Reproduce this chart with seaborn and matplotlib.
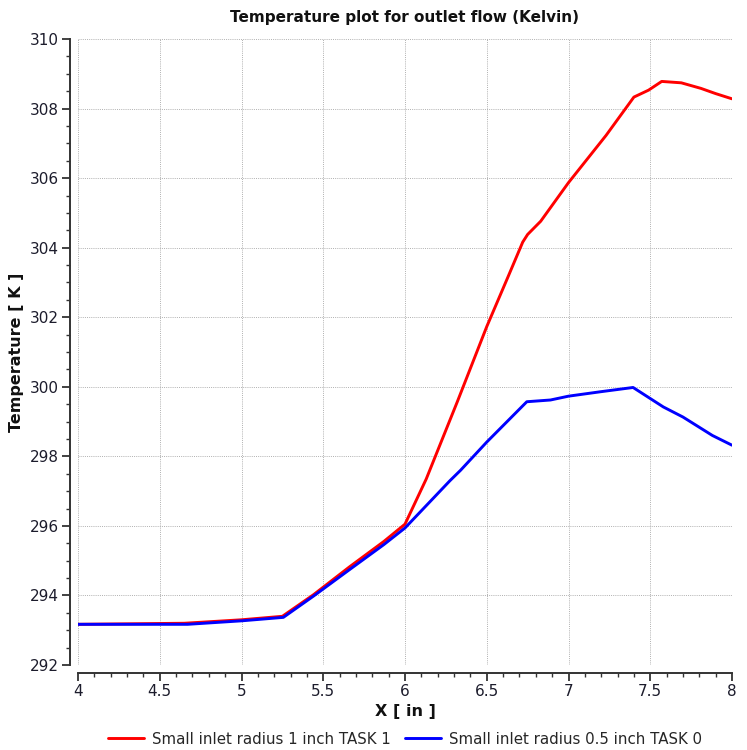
import matplotlib
matplotlib.use("Agg")
import matplotlib.pyplot as plt
from matplotlib.ticker import MultipleLocator, FormatStrFormatter
import pandas as pd
import seaborn as sns

# Outlet temperature
x_task1 = [4.0, 4.65, 5.0, 5.25, 5.44, 5.66, 5.87, 6.0, 6.13, 6.32, 6.5, 6.63,
           6.72, 6.75, 6.83, 7.0, 7.23, 7.4, 7.49, 7.57, 7.69, 7.81, 7.9, 8.0]
t_task1 = [293.17, 293.2, 293.3, 293.4, 294.02, 294.82, 295.55, 296.05, 297.35,
           299.57, 301.73, 303.16, 304.16, 304.38, 304.76, 305.87, 307.23,
           308.33, 308.53, 308.78, 308.74, 308.58, 308.43, 308.28]

x_task0 = [4.0, 4.67, 5.0, 5.256, 5.44, 5.66, 5.87, 6.0, 6.275, 6.34, 6.5,
           6.745, 6.89, 7.0, 7.2, 7.395, 7.58, 7.70, 7.88, 8.0]
t_task0 = [293.17, 293.17, 293.27, 293.37, 293.98, 294.74, 295.46, 295.94,
           297.3, 297.6, 298.41, 299.57, 299.62, 299.73, 299.86, 299.98,
           299.42, 299.13, 298.6, 298.32]

label1 = "Small inlet radius 1 inch TASK 1"
label0 = "Small inlet radius 0.5 inch TASK 0"

df = pd.concat([
    pd.DataFrame({"X": x_task1, "T": t_task1, "case": label1}),
    pd.DataFrame({"X": x_task0, "T": t_task0, "case": label0}),
], ignore_index=True)

sns.set_style("white")
plt.rcParams["font.family"] = ["DejaVu Sans"]

fig = plt.figure(figsize=(7.47, 7.5), dpi=100)
ax = fig.add_axes([78 / 747, 85 / 750, 654 / 747, 626 / 750])

sns.lineplot(data=df, x="X", y="T", hue="case", hue_order=[label1, label0],
             palette={label1: "#ff0000", label0: "#0000ff"}, linewidth=2.1,
             estimator=None, sort=False, ax=ax)

ax.set_xlim(4, 8)
ax.set_ylim(292, 310)
ax.xaxis.set_major_locator(MultipleLocator(0.5))
ax.xaxis.set_minor_locator(MultipleLocator(0.1))
ax.xaxis.set_major_formatter(FormatStrFormatter("%g"))
ax.yaxis.set_major_locator(MultipleLocator(2))
ax.yaxis.set_minor_locator(MultipleLocator(0.5))

ax.grid(True, which="major", color="#b0b0b0", linestyle=(0, (1, 1.2)), linewidth=0.7)
for s in ["top", "right"]:
    ax.spines[s].set_visible(False)
for s in ["left", "bottom"]:
    ax.spines[s].set_position(("outward", 5.5))
    ax.spines[s].set_color("#333333")
    ax.spines[s].set_linewidth(1.4)

ax.tick_params(which="major", direction="out", length=6, width=1.3,
               color="#333333", labelsize=11, labelcolor="#1c1c2c",
               left=True, bottom=True, pad=2.5)
ax.tick_params(which="minor", direction="out", length=3, width=1,
               color="#333333", left=True, bottom=True)

ax.set_title("Temperature plot for outlet flow (Kelvin)", fontsize=11,
             fontweight="bold", pad=12, color="#111111")
ax.set_xlabel("X [ in ]", fontsize=11.5, fontweight="bold", labelpad=3,
              color="#111111")
ax.set_ylabel("Temperature [ K ]", fontsize=11.5, fontweight="bold",
              labelpad=4, color="#111111")

ax.legend(loc="upper center", bbox_to_anchor=(0.5, -0.085), ncol=2,
          frameon=False, fontsize=10.8, handlelength=2.4, handletextpad=0.5,
          columnspacing=1.0, title=None)

fig.savefig("out.png", dpi=100)
